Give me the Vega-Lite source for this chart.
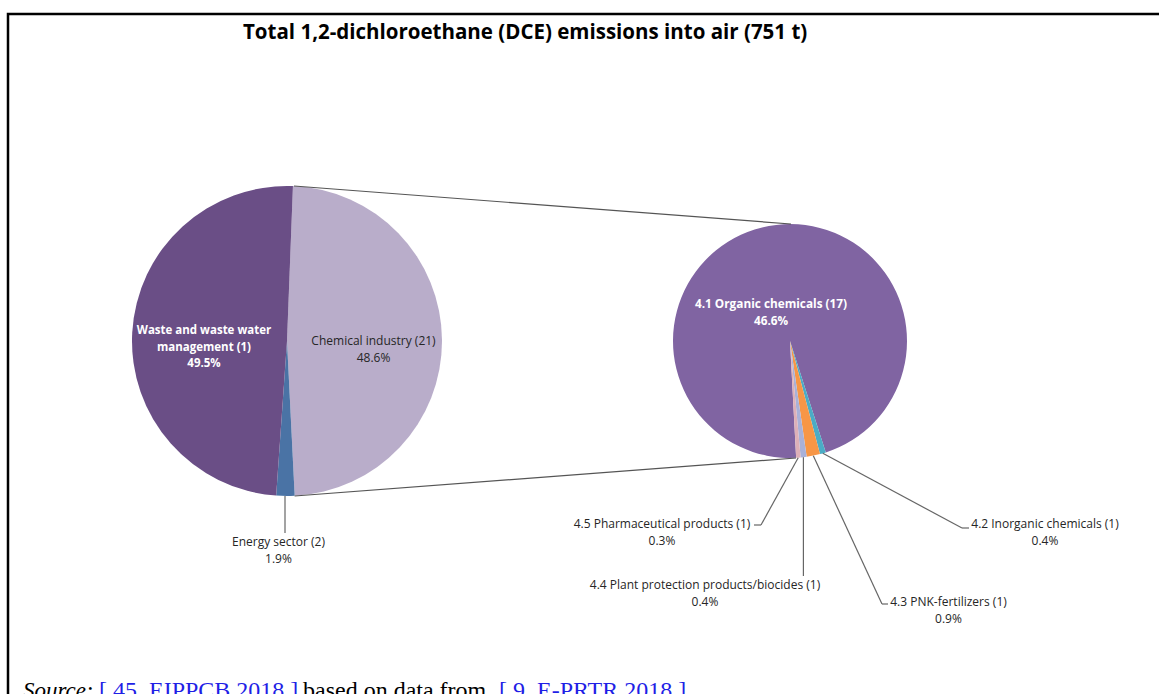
{
  "$schema": "https://vega.github.io/schema/vega-lite/v6.json",
  "width": 1155,
  "height": 684,
  "autosize": {"type": "none"},
  "padding": {"left": 8, "top": 14, "right": -4, "bottom": -4},
  "background": "white",
  "config": {
    "view": {"stroke": "black", "strokeWidth": 2.5},
    "axis": {"disable": true},
    "text": {"font": "Open Sans", "fontSize": 12, "lineHeight": 16.5, "lineBreak": "\n", "align": "center", "baseline": "middle", "color": "#262626"},
    "rule": {"stroke": "#555555", "strokeWidth": 1.2}
  },
  "title": {
    "text": "Total 1,2-dichloroethane (DCE) emissions into air (751 t)",
    "font": "Open Sans", "fontSize": 20.5, "fontWeight": "bold", "color": "#000000",
    "anchor": "start", "frame": "group", "dx": 235, "offset": -45, "baseline": "alphabetic"
  },
  "data": {
    "values": [
      {"pie": "main", "name": "Chemical industry", "label": "Chemical industry (21)", "share": 0.486, "seq": 1},
      {"pie": "main", "name": "Energy sector", "label": "Energy sector (2)", "share": 0.019, "seq": 2},
      {"pie": "main", "name": "Waste and waste water management", "label": "Waste and waste water\nmanagement (1)", "share": 0.495, "seq": 3},
      {"pie": "detail", "name": "4.1 Organic chemicals", "label": "4.1  Organic chemicals (17)", "share": 0.466, "seq": 1},
      {"pie": "detail", "name": "4.2 Inorganic chemicals", "label": "4.2 Inorganic chemicals (1)", "share": 0.004, "seq": 2},
      {"pie": "detail", "name": "4.3 PNK-fertilizers", "label": "4.3 PNK-fertilizers (1)", "share": 0.009, "seq": 3},
      {"pie": "detail", "name": "4.4 Plant protection products/biocides", "label": "4.4 Plant protection products/biocides  (1)", "share": 0.004, "seq": 4},
      {"pie": "detail", "name": "4.5 Pharmaceutical products", "label": "4.5 Pharmaceutical products (1)", "share": 0.003, "seq": 5}
    ]
  },
  "transform": [
    {"calculate": "datum.label + '\\n' + format(datum.share, '.1%')", "as": "text"}
  ],
  "encoding": {
    "x": {"field": "pie", "type": "nominal", "axis": null, "scale": {"type": "point", "padding": 0, "domain": ["main", "detail"], "range": [279, 782]}},
    "y": {"datum": 0, "type": "quantitative", "axis": null, "scale": {"domain": [-1, 1], "range": [482, 172]}}
  },
  "resolve": {"scale": {"theta": "independent"}},
  "layer": [
    {
      "transform": [{"filter": "datum.pie === 'main'"}],
      "mark": {"type": "arc", "outerRadius": 155},
      "encoding": {
        "theta": {"field": "share", "type": "quantitative", "stack": true, "scale": {"range": [0.0384, 6.3216], "nice": false}},
        "order": {"field": "seq", "type": "quantitative"},
        "color": {"field": "name", "type": "nominal", "legend": null,
          "scale": {"domain": ["Chemical industry", "Energy sector", "Waste and waste water management", "4.1 Organic chemicals", "4.2 Inorganic chemicals", "4.3 PNK-fertilizers", "4.4 Plant protection products/biocides", "4.5 Pharmaceutical products"],
                    "range": ["#B9ADCA", "#4A73A5", "#6A4E86", "#8064A2", "#4BACC6", "#F79646", "#A9B1D8", "#DDB0B8"]}}
      }
    },
    {
      "transform": [{"filter": "datum.pie === 'detail'"}],
      "mark": {"type": "arc", "outerRadius": 117},
      "encoding": {
        "theta": {"field": "share", "type": "quantitative", "stack": true, "scale": {"range": [3.0892, 9.3724], "nice": false}},
        "order": {"field": "seq", "type": "quantitative"},
        "color": {"field": "name", "type": "nominal", "legend": null,
          "scale": {"domain": ["Chemical industry", "Energy sector", "Waste and waste water management", "4.1 Organic chemicals", "4.2 Inorganic chemicals", "4.3 PNK-fertilizers", "4.4 Plant protection products/biocides", "4.5 Pharmaceutical products"],
                    "range": ["#B9ADCA", "#4A73A5", "#6A4E86", "#8064A2", "#4BACC6", "#F79646", "#A9B1D8", "#DDB0B8"]}}
      }
    },
    {
      "transform": [{"filter": "datum.name === 'Chemical industry'"}],
      "mark": {"type": "rule", "xOffset": 7, "yOffset": -155, "x2Offset": 1, "y2Offset": -117},
      "encoding": {"x2": {"datum": "detail"}, "y2": {"datum": 0}}
    },
    {
      "transform": [{"filter": "datum.name === 'Chemical industry'"}],
      "mark": {"type": "rule", "xOffset": 7.6, "yOffset": 155, "x2Offset": 6, "y2Offset": 117},
      "encoding": {"x2": {"datum": "detail"}, "y2": {"datum": 0}}
    },
    {
      "transform": [{"filter": "datum.name === 'Energy sector'"}],
      "mark": {"type": "rule", "stroke": "#666666", "xOffset": -2, "yOffset": 155, "x2Offset": -2, "y2Offset": 192},
      "encoding": {"x2": {"field": "pie"}, "y2": {"datum": 0}}
    },
    {
      "transform": [{"filter": "datum.name === '4.2 Inorganic chemicals'"}],
      "mark": {"type": "rule", "stroke": "#666666", "xOffset": 32.8, "yOffset": 112.3, "x2Offset": 172, "y2Offset": 187},
      "encoding": {"x2": {"field": "pie"}, "y2": {"datum": 0}}
    },
    {
      "transform": [{"filter": "datum.name === '4.2 Inorganic chemicals'"}],
      "mark": {"type": "rule", "stroke": "#666666", "xOffset": 172, "yOffset": 187, "x2Offset": 179, "y2Offset": 187},
      "encoding": {"x2": {"field": "pie"}, "y2": {"datum": 0}}
    },
    {
      "transform": [{"filter": "datum.name === '4.3 PNK-fertilizers'"}],
      "mark": {"type": "rule", "stroke": "#666666", "xOffset": 23.3, "yOffset": 114.7, "x2Offset": 92, "y2Offset": 263},
      "encoding": {"x2": {"field": "pie"}, "y2": {"datum": 0}}
    },
    {
      "transform": [{"filter": "datum.name === '4.3 PNK-fertilizers'"}],
      "mark": {"type": "rule", "stroke": "#666666", "xOffset": 92, "yOffset": 263, "x2Offset": 98, "y2Offset": 263},
      "encoding": {"x2": {"field": "pie"}, "y2": {"datum": 0}}
    },
    {
      "transform": [{"filter": "datum.name === '4.4 Plant protection products/biocides'"}],
      "mark": {"type": "rule", "stroke": "#666666", "xOffset": 13.4, "yOffset": 116.2, "x2Offset": 13.4, "y2Offset": 235},
      "encoding": {"x2": {"field": "pie"}, "y2": {"datum": 0}}
    },
    {
      "transform": [{"filter": "datum.name === '4.5 Pharmaceutical products'"}],
      "mark": {"type": "rule", "stroke": "#666666", "xOffset": 8.2, "yOffset": 116.7, "x2Offset": -29, "y2Offset": 184},
      "encoding": {"x2": {"field": "pie"}, "y2": {"datum": 0}}
    },
    {
      "transform": [{"filter": "datum.name === '4.5 Pharmaceutical products'"}],
      "mark": {"type": "rule", "stroke": "#666666", "xOffset": -29, "yOffset": 184, "x2Offset": -36, "y2Offset": 184},
      "encoding": {"x2": {"field": "pie"}, "y2": {"datum": 0}}
    },
    {
      "transform": [{"filter": "datum.name === 'Waste and waste water management'"}],
      "mark": {"type": "text", "dx": -83, "dy": -10, "color": "white", "fontWeight": "bold", "fontSize": 11.5},
      "encoding": {"text": {"field": "text"}}
    },
    {
      "transform": [{"filter": "datum.name === 'Chemical industry'"}],
      "mark": {"type": "text", "dx": 86.5, "dy": 0},
      "encoding": {"text": {"field": "text"}}
    },
    {
      "transform": [{"filter": "datum.name === 'Energy sector'"}],
      "mark": {"type": "text", "dx": -8.5, "dy": 201},
      "encoding": {"text": {"field": "text"}}
    },
    {
      "transform": [{"filter": "datum.name === '4.1 Organic chemicals'"}],
      "mark": {"type": "text", "dx": -19, "dy": -37, "color": "white", "fontWeight": "bold", "fontSize": 11.8},
      "encoding": {"text": {"field": "text"}}
    },
    {
      "transform": [{"filter": "datum.name === '4.2 Inorganic chemicals'"}],
      "mark": {"type": "text", "dx": 255, "dy": 183},
      "encoding": {"text": {"field": "text"}}
    },
    {
      "transform": [{"filter": "datum.name === '4.3 PNK-fertilizers'"}],
      "mark": {"type": "text", "dx": 158.5, "dy": 261},
      "encoding": {"text": {"field": "text"}}
    },
    {
      "transform": [{"filter": "datum.name === '4.4 Plant protection products/biocides'"}],
      "mark": {"type": "text", "dx": -85, "dy": 244},
      "encoding": {"text": {"field": "text"}}
    },
    {
      "transform": [{"filter": "datum.name === '4.5 Pharmaceutical products'"}],
      "mark": {"type": "text", "dx": -128, "dy": 183},
      "encoding": {"text": {"field": "text"}}
    },
    {
      "transform": [{"filter": "datum.name === 'Waste and waste water management'"}],
      "mark": {"type": "text", "text": "Source", "font": "Liberation Serif", "fontStyle": "italic", "fontSize": 23, "align": "left", "baseline": "alphabetic", "color": "black", "dx": -264, "dy": 357}
    },
    {
      "transform": [{"filter": "datum.name === 'Waste and waste water management'"}],
      "mark": {"type": "text", "text": ":", "font": "Liberation Serif", "fontSize": 24, "align": "left", "baseline": "alphabetic", "color": "black", "dx": -200, "dy": 357}
    },
    {
      "transform": [{"filter": "datum.name === 'Waste and waste water management'"}],
      "mark": {"type": "text", "text": "[ 45, EIPPCB 2018 ]", "font": "Liberation Serif", "fontSize": 24, "align": "left", "baseline": "alphabetic", "color": "#1F1FE6", "dx": -188, "dy": 357}
    },
    {
      "transform": [{"filter": "datum.name === 'Waste and waste water management'"}],
      "mark": {"type": "text", "text": "based on data from", "font": "Liberation Serif", "fontSize": 24, "align": "left", "baseline": "alphabetic", "color": "black", "dx": 16, "dy": 357}
    },
    {
      "transform": [{"filter": "datum.name === 'Waste and waste water management'"}],
      "mark": {"type": "text", "text": "[ 9, E-PRTR 2018 ]", "font": "Liberation Serif", "fontSize": 24, "align": "left", "baseline": "alphabetic", "color": "#1F1FE6", "dx": 212, "dy": 357}
    }
  ]
}
